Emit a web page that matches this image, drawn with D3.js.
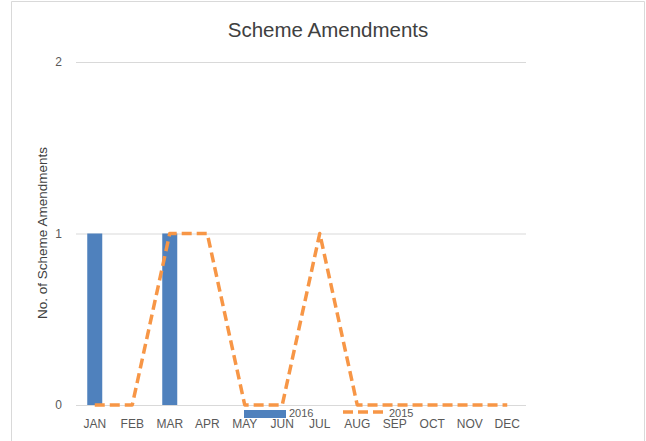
<!DOCTYPE html>
<html><head><meta charset="utf-8">
<script src="https://cdn.jsdelivr.net/npm/d3@7"></script>
<style>
html,body{margin:0;padding:0;background:#fff;}
text{font-family:"Liberation Sans",Arial,sans-serif;}
</style></head>
<body>
<svg id="c" width="646" height="441"></svg>
<script>
const months = ["JAN","FEB","MAR","APR","MAY","JUN","JUL","AUG","SEP","OCT","NOV","DEC"];
const values2016 = [1,0,1,0,0,0,0,0,0,0,0,0];
const values2015 = [0,0,1,1,0,0,1,0,0,0,0,0];
const yTicks = [0,1,2];
const title = "Scheme Amendments";
const yLabel = "No. of Scheme Amendments";

const svg = d3.select("#c");
// chart border
svg.append("path").attr("d","M11.5,441 L11.5,1.5 L644.5,1.5 L644.5,441")
  .attr("fill","none").attr("stroke","#d9d9d9").attr("stroke-width",1);

const x = d3.scaleBand().domain(months).range([76,526]).paddingInner(0).paddingOuter(0);
const y = d3.scaleLinear().domain([0,2]).range([405,62]);

// gridlines
svg.append("g").selectAll("line").data(yTicks).join("line")
  .attr("x1",76).attr("x2",526)
  .attr("y1",d=>y(d)+0.5).attr("y2",d=>y(d)+0.5)
  .attr("stroke","#d9d9d9").attr("stroke-width",1);

// y axis labels
const yAxis = d3.axisLeft(y).tickValues(yTicks).tickSize(0).tickPadding(0).tickFormat(d3.format("d"));
const yg = svg.append("g").attr("transform","translate(62,0)").call(yAxis);
yg.select(".domain").remove();
yg.selectAll("text").attr("font-size",12).attr("fill","#595959").attr("font-family","Liberation Sans, Arial, sans-serif");

// x axis labels
const xAxis = d3.axisBottom(x).tickSize(0).tickPadding(0);
const xg = svg.append("g").attr("transform","translate(0,419)").call(xAxis);
xg.select(".domain").remove();
xg.selectAll("text").attr("font-size",12).attr("fill","#595959").attr("font-family","Liberation Sans, Arial, sans-serif");

// bars
const bw = 15;
svg.append("g").selectAll("rect").data(months.map((m,i)=>({m,v:values2016[i]}))).join("rect")
  .attr("x",d=>x(d.m)+x.bandwidth()/2-bw/2)
  .attr("y",d=>y(d.v))
  .attr("width",bw)
  .attr("height",d=>y(0)-y(d.v))
  .attr("fill","#4f81bd");

// line
const line = d3.line().x((d,i)=>x(months[i])+x.bandwidth()/2).y(d=>y(d));
svg.append("path").datum(values2015).attr("d",line)
  .attr("fill","none").attr("stroke","#f79646").attr("stroke-width",3.5)
  .attr("stroke-dasharray","10,5").attr("stroke-linejoin","round");

// title
svg.append("text").attr("x",328).attr("y",37).attr("text-anchor","middle")
  .attr("font-size",20.5).attr("fill","#404040").text(title);

// y label
svg.append("text").attr("transform","translate(47,233) rotate(-90)")
  .attr("text-anchor","middle").attr("font-size",13.5).attr("fill","#404040").text(yLabel);

// legend
const lg = svg.append("g");
lg.append("rect").attr("x",244).attr("y",410).attr("width",42).attr("height",8).attr("fill","#4f81bd");
lg.append("text").attr("x",289).attr("y",417).attr("font-size",11).attr("fill","#595959").text("2016");
lg.append("line").attr("x1",343).attr("x2",385).attr("y1",412).attr("y2",412)
  .attr("stroke","#f79646").attr("stroke-width",3.5).attr("stroke-dasharray","10,5");
lg.append("text").attr("x",389).attr("y",417).attr("font-size",11).attr("fill","#595959").text("2015");
</script>
</body></html>
